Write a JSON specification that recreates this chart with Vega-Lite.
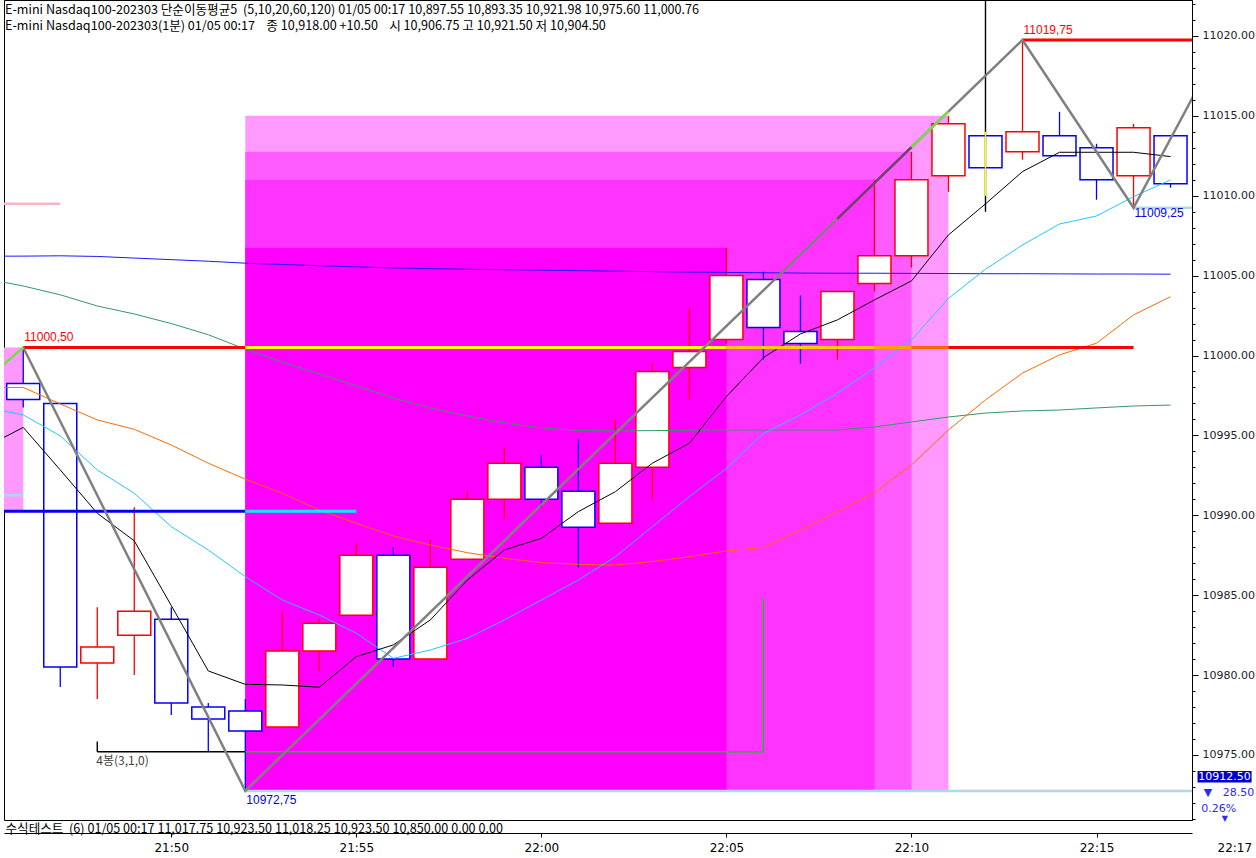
{
  "$schema": "https://vega.github.io/schema/vega-lite/v6.json",
  "description": "E-mini Nasdaq100-202303 1-minute candles with moving averages, zigzag and zones. Time is minutes after midnight (1306 = 21:46).",
  "width": 1188,
  "height": 820,
  "autosize": {"type": "none"},
  "padding": {"left": 4, "top": 0, "right": 64, "bottom": 38},
  "background": "white",
  "title": {
    "text": "E-mini Nasdaq100-202303 단순이동평균5\u00a0\u00a0(5,10,20,60,120) 01/05 00:17 10,897.55 10,893.35 10,921.98 10,975.60 11,000.76",
    "subtitle": "E-mini Nasdaq100-202303(1분) 01/05 00:17\u00a0\u00a0\u00a0\u00a0종 10,918.00 +10.50\u00a0\u00a0\u00a0\u00a0시 10,906.75 고 10,921.50 저 10,904.50",
    "anchor": "start",
    "frame": "group",
    "offset": -33,
    "dx": 1,
    "font": "Noto Sans CJK KR",
    "fontSize": 12.6,
    "fontWeight": "normal",
    "color": "black",
    "subtitleFont": "Noto Sans CJK KR",
    "subtitleFontSize": 12.6,
    "subtitleColor": "black",
    "subtitlePadding": 4
  },
  "config": {
    "view": {"stroke": "black", "strokeWidth": 1},
    "axis": {"grid": false}
  },
  "datasets": {
    "candles": [
      {"t": 1306, "o": 10998.25, "h": 11000.5, "l": 10996.75, "c": 10997.25},
      {"t": 1307, "o": 10997, "h": 10997, "l": 10979.25, "c": 10980.5},
      {"t": 1308, "o": 10980.75, "h": 10984.25, "l": 10978.5, "c": 10981.75},
      {"t": 1309, "o": 10982.5, "h": 10990.5, "l": 10980, "c": 10984},
      {"t": 1310, "o": 10983.5, "h": 10984.25, "l": 10977.5, "c": 10978.25},
      {"t": 1311, "o": 10978, "h": 10978.25, "l": 10975.25, "c": 10977.25},
      {"t": 1312, "o": 10977.75, "h": 10978.5, "l": 10972.75, "c": 10976.5},
      {"t": 1313, "o": 10976.75, "h": 10984, "l": 10976.75, "c": 10981.5},
      {"t": 1314, "o": 10981.5, "h": 10983.5, "l": 10980.25, "c": 10983.25},
      {"t": 1315, "o": 10983.75, "h": 10988.25, "l": 10983.75, "c": 10987.5},
      {"t": 1316, "o": 10987.5, "h": 10988, "l": 10980.5, "c": 10981},
      {"t": 1317, "o": 10981, "h": 10988.5, "l": 10981, "c": 10986.75},
      {"t": 1318, "o": 10987.25, "h": 10991.5, "l": 10987.25, "c": 10991},
      {"t": 1319, "o": 10991, "h": 10994.25, "l": 10989.75, "c": 10993.25},
      {"t": 1320, "o": 10993, "h": 10993.75, "l": 10990.5, "c": 10991},
      {"t": 1321, "o": 10991.5, "h": 10994.75, "l": 10986.75, "c": 10989.25},
      {"t": 1322, "o": 10989.5, "h": 10996, "l": 10989.5, "c": 10993.25},
      {"t": 1323, "o": 10993, "h": 10999.5, "l": 10991, "c": 10999},
      {"t": 1324, "o": 10999.25, "h": 11003, "l": 10997.25, "c": 11000.25},
      {"t": 1325, "o": 11001, "h": 11006.75, "l": 11000.75, "c": 11005},
      {"t": 1326, "o": 11004.75, "h": 11005.25, "l": 10999.75, "c": 11001.75},
      {"t": 1327, "o": 11001.5, "h": 11003.75, "l": 10999.5, "c": 11000.75},
      {"t": 1328, "o": 11001, "h": 11004, "l": 10999.75, "c": 11004},
      {"t": 1329, "o": 11004.5, "h": 11011, "l": 11004, "c": 11006.25},
      {"t": 1330, "o": 11006.25, "h": 11012.75, "l": 11005.5, "c": 11011},
      {"t": 1331, "o": 11011.25, "h": 11015, "l": 11010.25, "c": 11014.5},
      {"t": 1332, "o": 11013.75, "h": 11013.75, "l": 11011.75, "c": 11011.75},
      {"t": 1333, "o": 11012.75, "h": 11019.75, "l": 11012.25, "c": 11014},
      {"t": 1334, "o": 11013.75, "h": 11015.25, "l": 11012.5, "c": 11012.5},
      {"t": 1335, "o": 11013, "h": 11013.25, "l": 11009.75, "c": 11011},
      {"t": 1336, "o": 11011.25, "h": 11014.5, "l": 11009.25, "c": 11014.25},
      {"t": 1337, "o": 11013.75, "h": 11013.75, "l": 11010.5, "c": 11010.75}
    ],
    "ma": [
      {"t": 1305, "ma5": 10994.3, "ma10": 10996.75, "ma20": 10998.0, "ma60": 11004.8, "ma120": 11006.22},
      {"t": 1306, "ma5": 10995.5, "ma10": 10996.28, "ma20": 10998.0, "ma60": 11004.35, "ma120": 11006.22},
      {"t": 1307, "ma5": 10992.84, "ma10": 10994.97, "ma20": 10996.97, "ma60": 11003.8, "ma120": 11006.24},
      {"t": 1308, "ma5": 10990.13, "ma10": 10992.84, "ma20": 10995.97, "ma60": 11003.1, "ma120": 11006.2},
      {"t": 1309, "ma5": 10988.4, "ma10": 10991.38, "ma20": 10995.38, "ma60": 11002.6, "ma120": 11006.1},
      {"t": 1310, "ma5": 10984.35, "ma10": 10989.29, "ma20": 10994.4, "ma60": 11002.0, "ma120": 11006.0},
      {"t": 1311, "ma5": 10980.26, "ma10": 10987.83, "ma20": 10993.26, "ma60": 11001.3, "ma120": 11005.9},
      {"t": 1312, "ma5": 10979.42, "ma10": 10986.16, "ma20": 10992.26, "ma60": 11000.4, "ma120": 11005.78},
      {"t": 1313, "ma5": 10979.38, "ma10": 10984.7, "ma20": 10991.38, "ma60": 10999.6, "ma120": 11005.7},
      {"t": 1314, "ma5": 10979.24, "ma10": 10983.76, "ma20": 10990.33, "ma60": 10998.85, "ma120": 11005.62},
      {"t": 1315, "ma5": 10981.15, "ma10": 10982.62, "ma20": 10989.5, "ma60": 10998.1, "ma120": 11005.55},
      {"t": 1316, "ma5": 10981.89, "ma10": 10981.05, "ma20": 10988.71, "ma60": 10997.34, "ma120": 11005.48},
      {"t": 1317, "ma5": 10983.45, "ma10": 10981.57, "ma20": 10988.14, "ma60": 10996.72, "ma120": 11005.44},
      {"t": 1318, "ma5": 10985.95, "ma10": 10982.3, "ma20": 10987.66, "ma60": 10996.22, "ma120": 11005.4},
      {"t": 1319, "ma5": 10987.83, "ma10": 10983.45, "ma20": 10987.31, "ma60": 10995.78, "ma120": 11005.37},
      {"t": 1320, "ma5": 10988.56, "ma10": 10984.7, "ma20": 10987.04, "ma60": 10995.47, "ma120": 11005.34},
      {"t": 1321, "ma5": 10990.23, "ma10": 10985.95, "ma20": 10986.93, "ma60": 10995.31, "ma120": 11005.31},
      {"t": 1322, "ma5": 10991.48, "ma10": 10987.41, "ma20": 10986.89, "ma60": 10995.28, "ma120": 11005.28},
      {"t": 1323, "ma5": 10993.26, "ma10": 10989.29, "ma20": 10987.1, "ma60": 10995.3, "ma120": 11005.25},
      {"t": 1324, "ma5": 10994.51, "ma10": 10991.17, "ma20": 10987.41, "ma60": 10995.32, "ma120": 11005.22},
      {"t": 1325, "ma5": 10997.43, "ma10": 10992.94, "ma20": 10987.77, "ma60": 10995.34, "ma120": 11005.2},
      {"t": 1326, "ma5": 10999.87, "ma10": 10995.13, "ma20": 10987.99, "ma60": 10995.34, "ma120": 11005.18},
      {"t": 1327, "ma5": 11001.35, "ma10": 10996.28, "ma20": 10989.08, "ma60": 10995.34, "ma120": 11005.16},
      {"t": 1328, "ma5": 11002.23, "ma10": 10997.64, "ma20": 10990.23, "ma60": 10995.34, "ma120": 11005.15},
      {"t": 1329, "ma5": 11003.48, "ma10": 10999.22, "ma20": 10991.4, "ma60": 10995.53, "ma120": 11005.15},
      {"t": 1330, "ma5": 11004.67, "ma10": 11000.97, "ma20": 10993.15, "ma60": 10995.84, "ma120": 11005.14},
      {"t": 1331, "ma5": 11007.55, "ma10": 11003.58, "ma20": 10995.34, "ma60": 10996.15, "ma120": 11005.13},
      {"t": 1332, "ma5": 11009.49, "ma10": 11005.4, "ma20": 10997.22, "ma60": 10996.4, "ma120": 11005.12},
      {"t": 1333, "ma5": 11011.51, "ma10": 11006.92, "ma20": 10998.9, "ma60": 10996.53, "ma120": 11005.12},
      {"t": 1334, "ma5": 11012.72, "ma10": 11008.23, "ma20": 11000.04, "ma60": 10996.59, "ma120": 11005.11},
      {"t": 1335, "ma5": 11012.72, "ma10": 11008.73, "ma20": 11000.77, "ma60": 10996.72, "ma120": 11005.1},
      {"t": 1336, "ma5": 11012.72, "ma10": 11009.94, "ma20": 11002.54, "ma60": 10996.84, "ma120": 11005.1},
      {"t": 1337, "ma5": 11012.45, "ma10": 11010.99, "ma20": 11003.68, "ma60": 10996.9, "ma120": 11005.09}
    ],
    "zones": [
      {"t1": 1312, "t2": 1331, "top": 11015, "bottom": 10972.75, "zone": "A"},
      {"t1": 1305, "t2": 1306, "top": 11000.5, "bottom": 10990.25, "zone": "A"},
      {"t1": 1312, "t2": 1330, "top": 11012.75, "bottom": 10972.75, "zone": "B"},
      {"t1": 1312, "t2": 1329, "top": 11011, "bottom": 10972.75, "zone": "C"},
      {"t1": 1312, "t2": 1325, "top": 11006.75, "bottom": 10972.75, "zone": "D"}
    ],
    "zigzag": [
      {"t": 1306, "v": 11000.5},
      {"t": 1312, "v": 10972.75},
      {"t": 1333, "v": 11019.75},
      {"t": 1336, "v": 11009.25},
      {"t": 1338, "v": 11017.9}
    ],
    "lines": [
      {"t1": 1306, "t2": 1312, "v1": 11000.5, "v2": 11000.5, "part": "high"},
      {"t1": 1312, "t2": 1325, "v1": 11000.5, "v2": 11000.5, "part": "high in D"},
      {"t1": 1325, "t2": 1329, "v1": 11000.5, "v2": 11000.5, "part": "high in C"},
      {"t1": 1329, "t2": 1330, "v1": 11000.5, "v2": 11000.5, "part": "high in B"},
      {"t1": 1330, "t2": 1331, "v1": 11000.5, "v2": 11000.5, "part": "high in A"},
      {"t1": 1331, "t2": 1336, "v1": 11000.5, "v2": 11000.5, "part": "high"},
      {"t1": 1333, "t2": 1339, "v1": 11019.75, "v2": 11019.75, "part": "high"},
      {"t1": 1305, "t2": 1312, "v1": 10990.25, "v2": 10990.25, "part": "low"},
      {"t1": 1312, "t2": 1315, "v1": 10990.25, "v2": 10990.25, "part": "low in D"},
      {"t1": 1312, "t2": 1339, "v1": 10972.75, "v2": 10972.75, "part": "swing low"},
      {"t1": 1336, "t2": 1339, "v1": 11009.25, "v2": 11009.25, "part": "swing low"},
      {"t1": 1305, "t2": 1306, "v1": 10991.25, "v2": 10991.25, "part": "swing low"},
      {"t1": 1305, "t2": 1307, "v1": 11009.5, "v2": 11009.5, "part": "prior mark"},
      {"t1": 1308, "t2": 1312, "v1": 10975.2, "v2": 10975.2, "part": "bar count"},
      {"t1": 1308, "t2": 1308, "v1": 10975.2, "v2": 10975.85, "part": "bar count"},
      {"t1": 1312, "t2": 1326, "v1": 10975.2, "v2": 10975.2, "part": "bar count in D"},
      {"t1": 1326, "t2": 1326, "v1": 10975.2, "v2": 10984.8, "part": "bar count in D"},
      {"t1": 1332, "t2": 1332, "v1": 11009, "v2": 11023, "part": "cursor"},
      {"t1": 1332, "t2": 1332, "v1": 11010, "v2": 11014, "part": "cursor on body"},
      {"t1": 1305, "t2": 1306, "v1": 10998.5, "v2": 11000.5, "part": "zigzag up"},
      {"t1": 1328, "t2": 1330, "v1": 11008.56, "v2": 11013.04, "part": "zigzag mid"},
      {"t1": 1330, "t2": 1331, "v1": 11013.04, "v2": 11015.27, "part": "zigzag up"}
    ],
    "labels": [
      {"t": 1306, "v": 11001.15, "text": "11000,50", "kind": "high"},
      {"t": 1333, "v": 11020.4, "text": "11019,75", "kind": "high"},
      {"t": 1312, "v": 10972.2, "text": "10972,75", "kind": "low"},
      {"t": 1336, "v": 11008.9, "text": "11009,25", "kind": "low"},
      {"t": 1308, "v": 10974.6, "text": "4봉(3,1,0)", "kind": "count"}
    ],
    "quote": [
      {"t1": 1337.73, "t2": 1339.19, "v1": 10974.0, "v2": 10973.27, "t": 1338.46, "v": 10973.63, "text": "10912.50"}
    ],
    "change": [
      {"t": 1337.9, "v": 10972.65, "text": "▼\u00a0\u00a0\u00a028.50"},
      {"t": 1337.83, "v": 10971.62, "text": "0.26%"}
    ]
  },
  "resolve": {"axis": {"y": "independent"}},
  "layer": [
    {
      "data": {"name": "zones"},
      "mark": {"type": "rect", "clip": true},
      "encoding": {
        "x": {
          "field": "t1",
          "type": "quantitative",
          "scale": {"domain": [1305.48, 1337.58], "nice": false, "zero": false, "padding": 0},
          "axis": {
            "orient": "bottom",
            "offset": 13,
            "values": [1310, 1315, 1320, 1325, 1330, 1335],
            "labelExpr": "floor(datum.value / 60) + ':' + (datum.value % 60 < 10 ? '0' : '') + (datum.value % 60)",
            "tickSize": 4,
            "tickColor": "black",
            "domainColor": "black",
            "labelPadding": 5,
            "labelFont": "DejaVu Sans",
            "labelFontSize": 12,
            "labelColor": "black",
            "labelFlush": false,
            "title": "수식테스트\u00a0\u00a0(6) 01/05 00:17 11,017.75 10,923.50 11,018.25 10,923.50 10,850.00 0.00 0.00",
            "titleAnchor": "start",
            "titleAlign": "left",
            "titleBaseline": "alphabetic",
            "titleX": 1,
            "titleY": -1,
            "titleFont": "Noto Sans CJK KR",
            "titleFontSize": 12.6,
            "titleFontWeight": "normal",
            "titleColor": "black"
          }
        },
        "x2": {"field": "t2"},
        "y": {
          "field": "top",
          "type": "quantitative",
          "scale": {"domain": [10970.93, 11022.25], "nice": false, "zero": false, "padding": 0},
          "axis": {
            "orient": "right",
            "values": [10975, 10980, 10985, 10990, 10995, 11000, 11005, 11010, 11015, 11020],
            "format": ".2f",
            "tickSize": 6,
            "tickColor": "black",
            "domainColor": "black",
            "labelPadding": 4,
            "labelFont": "DejaVu Sans",
            "labelFontSize": 11,
            "labelColor": "#222222",
            "title": null
          }
        },
        "y2": {"field": "bottom"},
        "fill": {
          "field": "zone",
          "type": "nominal",
          "scale": {"domain": ["A", "B", "C", "D"], "range": ["#ff99ff", "#ff5cff", "#ff33ff", "#ff00ff"]},
          "legend": null
        }
      }
    },
    {
      "data": {"name": "candles"},
      "mark": {"type": "rule", "strokeWidth": 1.3},
      "encoding": {
        "x": {"field": "t", "type": "quantitative"},
        "y": {
          "field": "l",
          "type": "quantitative",
          "axis": {
            "orient": "right",
            "values": [10971, 10972, 10973, 10974, 10976, 10977, 10978, 10979, 10981, 10982, 10983, 10984, 10986, 10987, 10988, 10989, 10991, 10992, 10993, 10994, 10996, 10997, 10998, 10999, 11001, 11002, 11003, 11004, 11006, 11007, 11008, 11009, 11011, 11012, 11013, 11014, 11016, 11017, 11018, 11019, 11021, 11022],
            "labels": false,
            "domain": false,
            "tickSize": 3,
            "tickColor": "black",
            "title": null
          }
        },
        "y2": {"field": "h"},
        "stroke": {"condition": {"test": "datum.c >= datum.o", "value": "#ff0000"}, "value": "#0000ff"}
      }
    },
    {
      "data": {"name": "candles"},
      "mark": {"type": "bar", "width": 33, "fill": "white", "strokeWidth": 1.5},
      "encoding": {
        "x": {"field": "t", "type": "quantitative"},
        "y": {"field": "o", "type": "quantitative", "axis": null},
        "y2": {"field": "c"},
        "stroke": {"condition": {"test": "datum.c >= datum.o", "value": "#ff0000"}, "value": "#0000ff"}
      }
    },
    {
      "data": {"name": "ma"},
      "transform": [{"fold": ["ma120", "ma60", "ma20", "ma10", "ma5"], "as": ["ma", "value"]}],
      "mark": {"type": "line", "strokeWidth": 1, "clip": true},
      "encoding": {
        "x": {"field": "t", "type": "quantitative"},
        "y": {"field": "value", "type": "quantitative", "axis": null},
        "color": {
          "field": "ma",
          "type": "nominal",
          "scale": {"domain": ["ma120", "ma60", "ma20", "ma10", "ma5"], "range": ["#1a1aff", "#339966", "#ff6a00", "#1ec8ff", "#000000"]},
          "legend": null
        }
      }
    },
    {
      "data": {"name": "lines"},
      "transform": [{"filter": {"field": "part", "oneOf": ["high", "high in D", "high in C", "high in B", "high in A", "low", "low in D"]}}],
      "mark": {"type": "rule", "strokeWidth": 3, "clip": true},
      "encoding": {
        "x": {"field": "t1", "type": "quantitative"},
        "x2": {"field": "t2"},
        "y": {"field": "v1", "type": "quantitative", "axis": null},
        "y2": {"field": "v2"},
        "stroke": {
          "field": "part",
          "type": "nominal",
          "scale": {
            "domain": ["high", "high in D", "high in C", "high in B", "high in A", "low", "low in D", "swing low", "prior mark", "bar count", "bar count in D", "cursor", "cursor on body", "zigzag up", "zigzag mid"],
            "range": ["#ff0000", "#ffff00", "#ffcc00", "#ffa300", "#ff6600", "#0000ee", "#00eeff", "#add8e6", "#f7b6c2", "#000000", "#00d000", "#000000", "#ffff00", "#77dd44", "#7a3b7a"]
          },
          "legend": null
        }
      }
    },
    {
      "data": {"name": "lines"},
      "transform": [{"filter": {"field": "part", "oneOf": ["swing low", "prior mark"]}}],
      "mark": {"type": "rule", "strokeWidth": 2.5, "clip": true},
      "encoding": {
        "x": {"field": "t1", "type": "quantitative"},
        "x2": {"field": "t2"},
        "y": {"field": "v1", "type": "quantitative", "axis": null},
        "y2": {"field": "v2"},
        "stroke": {"field": "part", "type": "nominal", "legend": null}
      }
    },
    {
      "data": {"name": "lines"},
      "transform": [{"filter": {"field": "part", "oneOf": ["bar count", "bar count in D", "cursor", "cursor on body"]}}],
      "mark": {"type": "rule", "strokeWidth": 1.4, "clip": true},
      "encoding": {
        "x": {"field": "t1", "type": "quantitative"},
        "x2": {"field": "t2"},
        "y": {"field": "v1", "type": "quantitative", "axis": null},
        "y2": {"field": "v2"},
        "stroke": {"field": "part", "type": "nominal", "legend": null}
      }
    },
    {
      "data": {"name": "zigzag"},
      "mark": {"type": "line", "color": "#808080", "strokeWidth": 2.5, "clip": true},
      "encoding": {
        "x": {"field": "t", "type": "quantitative"},
        "y": {"field": "v", "type": "quantitative", "axis": null}
      }
    },
    {
      "data": {"name": "lines"},
      "transform": [{"filter": {"field": "part", "oneOf": ["zigzag up", "zigzag mid"]}}],
      "mark": {"type": "rule", "strokeWidth": 2.5, "clip": true},
      "encoding": {
        "x": {"field": "t1", "type": "quantitative"},
        "x2": {"field": "t2"},
        "y": {"field": "v1", "type": "quantitative", "axis": null},
        "y2": {"field": "v2"},
        "stroke": {"field": "part", "type": "nominal", "legend": null}
      }
    },
    {
      "data": {"name": "labels"},
      "transform": [{"filter": "datum.kind === 'high'"}],
      "mark": {"type": "text", "align": "left", "baseline": "middle", "dx": 1, "font": "Liberation Sans", "fontSize": 12, "color": "#ff0000"},
      "encoding": {
        "x": {"field": "t", "type": "quantitative"},
        "y": {"field": "v", "type": "quantitative", "axis": null},
        "text": {"field": "text"}
      }
    },
    {
      "data": {"name": "labels"},
      "transform": [{"filter": "datum.kind === 'low'"}],
      "mark": {"type": "text", "align": "left", "baseline": "middle", "dx": 1, "font": "Liberation Sans", "fontSize": 12, "color": "#0000ee"},
      "encoding": {
        "x": {"field": "t", "type": "quantitative"},
        "y": {"field": "v", "type": "quantitative", "axis": null},
        "text": {"field": "text"}
      }
    },
    {
      "data": {"name": "labels"},
      "transform": [{"filter": "datum.kind === 'count'"}],
      "mark": {"type": "text", "align": "left", "baseline": "middle", "dx": -1, "font": "Noto Sans CJK KR", "fontSize": 12, "color": "#404040"},
      "encoding": {
        "x": {"field": "t", "type": "quantitative"},
        "y": {"field": "v", "type": "quantitative", "axis": null},
        "text": {"field": "text"}
      }
    },
    {
      "data": {"name": "quote"},
      "mark": {"type": "rect", "color": "#0000cc"},
      "encoding": {
        "x": {"field": "t1", "type": "quantitative"},
        "x2": {"field": "t2"},
        "y": {"field": "v1", "type": "quantitative", "axis": null},
        "y2": {"field": "v2"}
      }
    },
    {
      "data": {"name": "quote"},
      "mark": {"type": "text", "align": "center", "baseline": "middle", "font": "DejaVu Sans", "fontSize": 11, "color": "white"},
      "encoding": {
        "x": {"field": "t", "type": "quantitative"},
        "y": {"field": "v", "type": "quantitative", "axis": null},
        "text": {"field": "text"}
      }
    },
    {
      "data": {"name": "change"},
      "mark": {"type": "text", "align": "left", "baseline": "middle", "font": "DejaVu Sans", "fontSize": 11, "color": "#2a2aff"},
      "encoding": {
        "x": {"field": "t", "type": "quantitative"},
        "y": {"field": "v", "type": "quantitative", "axis": null},
        "text": {"field": "text"}
      }
    },
    {
      "data": {"values": [{"t": 1338.47, "v": 10971.02, "text": "▼"}]},
      "mark": {"type": "text", "align": "center", "baseline": "middle", "font": "DejaVu Sans", "fontSize": 8, "color": "#2a2aff"},
      "encoding": {
        "x": {"field": "t", "type": "quantitative"},
        "y": {"field": "v", "type": "quantitative", "axis": null},
        "text": {"field": "text"}
      }
    },
    {
      "data": {"values": [{"t": 1338.27, "v": 10969.18, "text": "22:17"}]},
      "mark": {"type": "text", "align": "left", "baseline": "middle", "font": "DejaVu Sans", "fontSize": 12, "color": "black"},
      "encoding": {
        "x": {"field": "t", "type": "quantitative"},
        "y": {"field": "v", "type": "quantitative", "axis": null},
        "text": {"field": "text"}
      }
    }
  ]
}
